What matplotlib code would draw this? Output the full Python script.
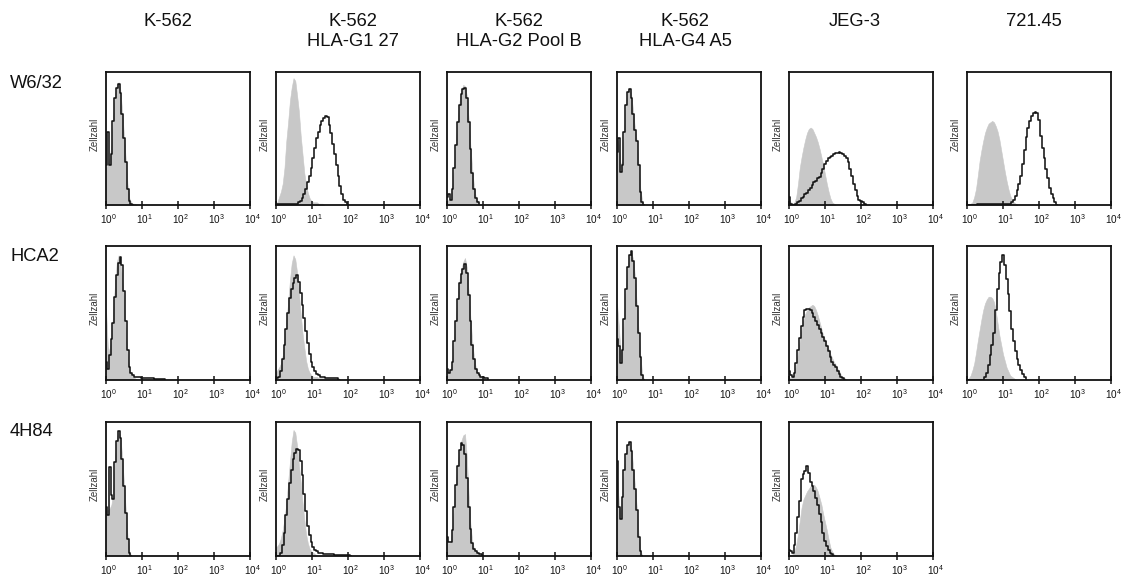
import numpy as np
import matplotlib
matplotlib.use('Agg')
import matplotlib.pyplot as plt
import matplotlib.transforms as mtransforms
from matplotlib.ticker import NullLocator

plt.rcParams['font.family'] = ['Liberation Sans', 'DejaVu Sans']

# ---------------- data ----------------
# histogram heights (fraction of the axis height) on a log10 channel grid
bin_step = 0.05   # decades per channel, channel 0 = 10^0

col_titles = ['K-562', 'K-562\nHLA-G1 27', 'K-562\nHLA-G2 Pool B',
              'K-562\nHLA-G4 A5', 'JEG-3', '721.45']
row_titles = ['W6/32', 'HCA2', '4H84']
decade_ticks = [1, 10, 100, 1000, 10000]
decade_labels = [r'$\mathdefault{10^{0}}$', r'$\mathdefault{10^{1}}$',
                 r'$\mathdefault{10^{2}}$', r'$\mathdefault{10^{3}}$',
                 r'$\mathdefault{10^{4}}$']
y_label = 'Zellzahl'

# Row W6/32
k562_w632_ctrl = [0.28, 0.30, 0.35, 0.45, 0.66, 0.82, 0.90, 0.92, 0.86, 0.70, 0.52, 0.34, 0.15, 0.05, 0.02, 0.01, 0.01, 0.0]
k562_w632_stain = [0.30, 0.55, 0.30, 0.38, 0.63, 0.80, 0.88, 0.91, 0.84, 0.68, 0.50, 0.32, 0.12, 0.03, 0.01, 0.0]
g1_w632_ctrl = [0.01, 0.02, 0.06, 0.10, 0.16, 0.28, 0.48, 0.62, 0.78, 0.88, 0.95, 0.93, 0.82, 0.70, 0.52, 0.38, 0.24, 0.15, 0.09, 0.05, 0.03, 0.02, 0.02, 0.02, 0.01, 0.01, 0.01, 0.0]
g1_w632_stain = [0.01, 0.01, 0.01, 0.01, 0.01, 0.01, 0.01, 0.01, 0.01, 0.01, 0.01, 0.01, 0.01, 0.02, 0.03, 0.05, 0.08, 0.12, 0.17, 0.22, 0.28, 0.35, 0.43, 0.50, 0.55, 0.60, 0.63, 0.65, 0.67, 0.66, 0.60, 0.54, 0.46, 0.38, 0.30, 0.22, 0.14, 0.08, 0.04, 0.02, 0.0]
g2_w632_ctrl = [0.03, 0.04, 0.06, 0.14, 0.30, 0.48, 0.65, 0.78, 0.86, 0.90, 0.89, 0.82, 0.65, 0.45, 0.27, 0.14, 0.06, 0.03, 0.01, 0.0]
g2_w632_stain = [0.06, 0.08, 0.04, 0.12, 0.28, 0.45, 0.62, 0.75, 0.83, 0.87, 0.88, 0.80, 0.62, 0.42, 0.24, 0.12, 0.05, 0.02, 0.0]
g4_w632_ctrl = [0.50, 0.45, 0.30, 0.33, 0.56, 0.76, 0.86, 0.88, 0.82, 0.70, 0.57, 0.48, 0.30, 0.12, 0.03, 0.0]
g4_w632_stain = [0.40, 0.50, 0.25, 0.30, 0.55, 0.75, 0.85, 0.87, 0.80, 0.68, 0.56, 0.48, 0.30, 0.10, 0.02, 0.0]
jeg_w632_ctrl = [0.04, 0.02, 0.01, 0.02, 0.06, 0.16, 0.28, 0.36, 0.43, 0.49, 0.54, 0.57, 0.58, 0.57, 0.54, 0.51, 0.47, 0.42, 0.36, 0.30, 0.23, 0.16, 0.10, 0.05, 0.02, 0.01, 0.0]
jeg_w632_stain = [0.06, 0.01, 0.0, 0.0, 0.01, 0.02, 0.03, 0.05, 0.06, 0.08, 0.09, 0.11, 0.13, 0.15, 0.17, 0.18, 0.20, 0.21, 0.24, 0.27, 0.31, 0.33, 0.35, 0.36, 0.37, 0.38, 0.39, 0.39, 0.40, 0.39, 0.38, 0.37, 0.35, 0.32, 0.27, 0.22, 0.16, 0.11, 0.07, 0.04, 0.03, 0.02, 0.01, 0.0]
lcl_w632_ctrl = [0.0, 0.0, 0.01, 0.02, 0.06, 0.12, 0.22, 0.33, 0.41, 0.48, 0.54, 0.58, 0.61, 0.62, 0.63, 0.62, 0.59, 0.55, 0.49, 0.41, 0.33, 0.25, 0.18, 0.12, 0.07, 0.04, 0.02, 0.01, 0.0]
lcl_w632_stain = [0.0, 0.0, 0.0, 0.0, 0.0, 0.0, 0.01, 0.01, 0.01, 0.01, 0.01, 0.01, 0.01, 0.01, 0.01, 0.01, 0.01, 0.01, 0.01, 0.01, 0.01, 0.01, 0.01, 0.01, 0.01, 0.02, 0.04, 0.07, 0.11, 0.16, 0.22, 0.31, 0.41, 0.51, 0.58, 0.63, 0.67, 0.69, 0.70, 0.69, 0.64, 0.52, 0.43, 0.35, 0.27, 0.20, 0.13, 0.08, 0.05, 0.02, 0.0]

# Row HCA2
k562_hca2_ctrl = [0.53, 0.25, 0.20, 0.32, 0.50, 0.72, 0.88, 0.93, 0.88, 0.75, 0.58, 0.35, 0.18, 0.08, 0.04, 0.02, 0.01, 0.0]
k562_hca2_stain = [0.13, 0.08, 0.18, 0.30, 0.42, 0.62, 0.78, 0.87, 0.92, 0.86, 0.66, 0.44, 0.22, 0.09, 0.05, 0.03, 0.02, 0.02, 0.02, 0.02, 0.01, 0.01, 0.01, 0.01, 0.01, 0.01, 0.01, 0.005, 0.005, 0.005, 0.005, 0.005, 0.005, 0.0]
g1_hca2_ctrl = [0.05, 0.07, 0.09, 0.12, 0.18, 0.29, 0.43, 0.58, 0.74, 0.87, 0.93, 0.90, 0.80, 0.65, 0.49, 0.35, 0.24, 0.14, 0.08, 0.05, 0.03, 0.02, 0.02, 0.02, 0.01, 0.01, 0.01, 0.01, 0.01, 0.01, 0.01, 0.01, 0.01, 0.01, 0.01, 0.01, 0.0]
g1_hca2_stain = [0.0, 0.01, 0.02, 0.06, 0.15, 0.26, 0.38, 0.50, 0.61, 0.68, 0.72, 0.76, 0.78, 0.73, 0.65, 0.56, 0.46, 0.36, 0.27, 0.19, 0.13, 0.09, 0.06, 0.04, 0.03, 0.02, 0.02, 0.015, 0.01, 0.01, 0.01, 0.01, 0.01, 0.01, 0.01, 0.0]
g2_hca2_ctrl = [0.05, 0.04, 0.07, 0.15, 0.31, 0.47, 0.63, 0.75, 0.83, 0.88, 0.91, 0.84, 0.66, 0.47, 0.29, 0.17, 0.09, 0.05, 0.03, 0.02, 0.01, 0.01, 0.0]
g2_hca2_stain = [0.08, 0.05, 0.07, 0.13, 0.29, 0.44, 0.60, 0.72, 0.79, 0.83, 0.865, 0.80, 0.63, 0.44, 0.26, 0.15, 0.08, 0.05, 0.03, 0.02, 0.015, 0.01, 0.01, 0.0]
g4_hca2_ctrl = [0.57, 0.40, 0.20, 0.26, 0.47, 0.70, 0.85, 0.93, 0.95, 0.90, 0.77, 0.56, 0.36, 0.18, 0.04, 0.0]
g4_hca2_stain = [0.30, 0.25, 0.12, 0.22, 0.45, 0.68, 0.84, 0.93, 0.96, 0.89, 0.76, 0.55, 0.35, 0.17, 0.03, 0.0]
jeg_hca2_ctrl = [0.02, 0.01, 0.02, 0.05, 0.11, 0.20, 0.29, 0.37, 0.44, 0.49, 0.52, 0.54, 0.55, 0.56, 0.55, 0.52, 0.48, 0.43, 0.38, 0.33, 0.30, 0.26, 0.23, 0.19, 0.16, 0.13, 0.11, 0.08, 0.06, 0.03, 0.02, 0.01, 0.0]
jeg_hca2_stain = [0.06, 0.03, 0.02, 0.05, 0.12, 0.22, 0.31, 0.40, 0.47, 0.52, 0.53, 0.53, 0.52, 0.50, 0.47, 0.44, 0.41, 0.38, 0.35, 0.32, 0.29, 0.25, 0.21, 0.17, 0.13, 0.11, 0.09, 0.06, 0.04, 0.02, 0.01, 0.0]
lcl_hca2_ctrl = [0.0, 0.01, 0.03, 0.07, 0.12, 0.20, 0.29, 0.37, 0.45, 0.52, 0.57, 0.60, 0.62, 0.62, 0.61, 0.58, 0.51, 0.42, 0.33, 0.26, 0.19, 0.14, 0.09, 0.06, 0.03, 0.02, 0.01, 0.0]
lcl_hca2_stain = [0.0, 0.0, 0.0, 0.0, 0.0, 0.0, 0.0, 0.0, 0.0, 0.0, 0.02, 0.05, 0.11, 0.18, 0.26, 0.35, 0.52, 0.68, 0.80, 0.88, 0.93, 0.86, 0.75, 0.64, 0.51, 0.38, 0.29, 0.21, 0.15, 0.11, 0.07, 0.04, 0.02, 0.0]

# Row 4H84
k562_4h84_ctrl = [0.34, 0.34, 0.35, 0.38, 0.48, 0.72, 0.88, 0.93, 0.89, 0.74, 0.54, 0.34, 0.14, 0.03, 0.0]
k562_4h84_stain = [0.36, 0.30, 0.66, 0.45, 0.42, 0.70, 0.86, 0.93, 0.88, 0.72, 0.52, 0.32, 0.12, 0.02, 0.0]
g1_4h84_ctrl = [0.06, 0.07, 0.09, 0.13, 0.19, 0.28, 0.39, 0.55, 0.70, 0.85, 0.94, 0.92, 0.82, 0.68, 0.55, 0.40, 0.27, 0.16, 0.09, 0.05, 0.03, 0.02, 0.01, 0.0]
g1_4h84_stain = [0.0, 0.0, 0.0, 0.02, 0.08, 0.17, 0.30, 0.42, 0.54, 0.64, 0.72, 0.77, 0.80, 0.79, 0.71, 0.60, 0.46, 0.33, 0.22, 0.15, 0.10, 0.06, 0.04, 0.03, 0.02, 0.02, 0.015, 0.01, 0.01, 0.01, 0.01, 0.01, 0.01, 0.005, 0.005, 0.005, 0.005, 0.005, 0.005, 0.005, 0.005, 0.005, 0.0]
g2_4h84_ctrl = [0.10, 0.09, 0.10, 0.20, 0.38, 0.56, 0.70, 0.80, 0.86, 0.90, 0.91, 0.74, 0.46, 0.24, 0.11, 0.05, 0.03, 0.02, 0.01, 0.0]
g2_4h84_stain = [0.14, 0.10, 0.10, 0.19, 0.36, 0.53, 0.67, 0.79, 0.84, 0.83, 0.76, 0.58, 0.36, 0.20, 0.09, 0.05, 0.03, 0.02, 0.01, 0.01, 0.0]
g4_4h84_ctrl = [0.62, 0.40, 0.30, 0.46, 0.66, 0.77, 0.84, 0.85, 0.80, 0.66, 0.52, 0.36, 0.16, 0.04, 0.0]
g4_4h84_stain = [0.71, 0.36, 0.27, 0.44, 0.64, 0.76, 0.83, 0.85, 0.78, 0.64, 0.50, 0.34, 0.14, 0.03, 0.0]
jeg_4h84_ctrl = [0.01, 0.0, 0.01, 0.03, 0.08, 0.16, 0.26, 0.36, 0.42, 0.45, 0.48, 0.50, 0.52, 0.53, 0.53, 0.51, 0.48, 0.43, 0.38, 0.31, 0.25, 0.19, 0.12, 0.06, 0.03, 0.01, 0.0]
jeg_4h84_stain = [0.04, 0.03, 0.02, 0.08, 0.17, 0.29, 0.41, 0.57, 0.61, 0.63, 0.67, 0.62, 0.55, 0.52, 0.48, 0.43, 0.38, 0.31, 0.25, 0.17, 0.11, 0.07, 0.04, 0.02, 0.01, 0.0]

panels = [
    [(k562_w632_ctrl, k562_w632_stain), (g1_w632_ctrl, g1_w632_stain),
     (g2_w632_ctrl, g2_w632_stain), (g4_w632_ctrl, g4_w632_stain),
     (jeg_w632_ctrl, jeg_w632_stain), (lcl_w632_ctrl, lcl_w632_stain)],
    [(k562_hca2_ctrl, k562_hca2_stain), (g1_hca2_ctrl, g1_hca2_stain),
     (g2_hca2_ctrl, g2_hca2_stain), (g4_hca2_ctrl, g4_hca2_stain),
     (jeg_hca2_ctrl, jeg_hca2_stain), (lcl_hca2_ctrl, lcl_hca2_stain)],
    [(k562_4h84_ctrl, k562_4h84_stain), (g1_4h84_ctrl, g1_4h84_stain),
     (g2_4h84_ctrl, g2_4h84_stain), (g4_4h84_ctrl, g4_4h84_stain),
     (jeg_4h84_ctrl, jeg_4h84_stain), None],
]

# ---------------- layout (pixels) ----------------
W, H = 1126, 575
col_left = [106, 275.5, 447, 617, 789, 967]
ax_w = 144
row_top = [71.5, 246, 422]
ax_h = 133.5
title_x = [168, 353, 519, 685, 855, 1034]
title_base = [26, 46]
row_label_base = [87.5, 261.5, 436]

GRAY = '#c8c8c8'
LINE = '#141414'

fig = plt.figure(figsize=(W / 100, H / 100), dpi=100)
label_shift = mtransforms.ScaledTranslation(2.5 / 100, 0, fig.dpi_scale_trans)

for r, row in enumerate(panels):
    for c, pair in enumerate(row):
        if pair is None:
            continue
        ctrl, stain = pair
        ax = fig.add_axes([col_left[c] / W, 1 - (row_top[r] + ax_h) / H,
                           ax_w / W, ax_h / H])
        xc = 10 ** (np.arange(len(ctrl)) * bin_step)
        xs = 10 ** (np.arange(len(stain)) * bin_step)
        ax.fill_between(xc, ctrl, color=GRAY, edgecolor=GRAY, linewidth=0.4,
                        zorder=1)
        ax.plot(xs, stain, drawstyle='steps-mid', color=LINE, lw=1.15, zorder=2)
        ax.set_xscale('log')
        ax.set_xlim(1, 1e4)
        ax.set_ylim(0, 1)
        ax.set_xticks(decade_ticks)
        ax.set_xticklabels(decade_labels)
        ax.xaxis.set_minor_locator(NullLocator())
        ax.set_yticks([])
        ax.tick_params(axis='x', direction='inout', length=6, width=1.1,
                       pad=2.5, labelsize=7.2, colors='#111111')
        for lab in ax.get_xticklabels():
            lab.set_transform(lab.get_transform() + label_shift)
        for s in ax.spines.values():
            s.set_linewidth(1.3)
            s.set_color('#111111')
        ax.set_ylabel(y_label, fontsize=7, color='#333333')
        ax.yaxis.set_label_coords(-0.04, 0.53)

for c, t in enumerate(col_titles):
    for k, line in enumerate(t.split('\n')):
        fig.text(title_x[c] / W, 1 - title_base[k] / H, line, ha='center',
                 va='baseline', fontsize=13.2, color='#111111')

for r, t in enumerate(row_titles):
    fig.text(10 / W, 1 - row_label_base[r] / H, t, ha='left', va='baseline',
             fontsize=13.2, color='#111111')

fig.savefig('out.png', dpi=100)
